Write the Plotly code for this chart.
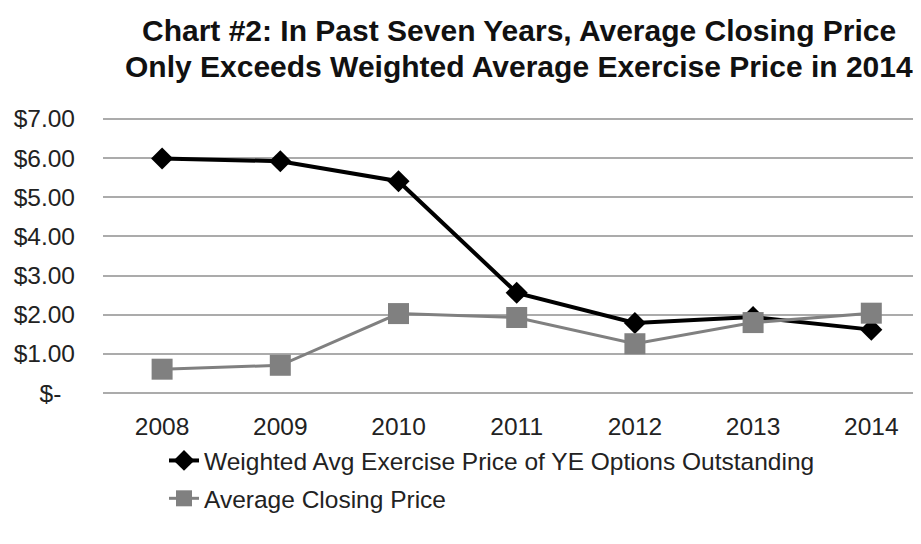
import plotly.graph_objects as go

years = ["2008", "2009", "2010", "2011", "2012", "2013", "2014"]
weighted_avg = [5.99, 5.92, 5.41, 2.56, 1.79, 1.94, 1.62]
avg_closing = [0.61, 0.71, 2.03, 1.93, 1.26, 1.80, 2.04]
ytick_vals = [0, 1, 2, 3, 4, 5, 6, 7]
ytick_text = ["$-\u00a0\u00a0", "$1.00", "$2.00", "$3.00", "$4.00", "$5.00", "$6.00", "$7.00"]
title_lines = ["Chart #2: In Past Seven Years, Average Closing Price",
               "Only Exceeds Weighted Average Exercise Price in 2014"]

FONT = "Liberation Sans, Arial, Helvetica, sans-serif"
FS = 24.5

# page body has an 8px margin, so figure coords = window coords - 8
OFF = 8
PX_PER_UNIT = 39.14
PAD = 0.1  # y-range padding so the $- and $7.00 gridlines are drawn
PLOT_L, PLOT_R = 103 - OFF, 921 - OFF
PLOT_T = round(119 - OFF - PAD * PX_PER_UNIT)
PLOT_B = round(393 - OFF + PAD * PX_PER_UNIT)
FIG_W, FIG_H = 921, 544
PH = PLOT_B - PLOT_T

fig = go.Figure()
fig.add_trace(go.Scatter(
    x=years, y=weighted_avg, mode="lines+markers",
    name="Weighted Avg Exercise Price of YE Options Outstanding",
    line=dict(color="#000000", width=4),
    marker=dict(symbol="diamond", size=17, color="#000000"),
    legendgroup="a",
))
fig.add_trace(go.Scatter(
    x=years, y=avg_closing, mode="lines+markers",
    name="Average Closing Price",
    line=dict(color="#808080", width=3),
    marker=dict(symbol="square", size=21, color="#808080"),
    legendgroup="b",
))

for line, ywin in zip(title_lines, [30, 66]):
    fig.add_annotation(
        text=line, xref="paper", yref="paper",
        x=(519 - 103) / (PLOT_R - PLOT_L), y=1 + (PLOT_T - (ywin - OFF)) / PH,
        xanchor="center", yanchor="middle", showarrow=False,
        font=dict(family=FONT, size=30, color="#111111", weight="bold"),
    )

fig.update_layout(
    width=FIG_W, height=FIG_H,
    margin=dict(l=PLOT_L, r=FIG_W - PLOT_R, t=PLOT_T, b=FIG_H - PLOT_B, autoexpand=False),
    paper_bgcolor="white", plot_bgcolor="white",
    font=dict(family=FONT, size=FS, color="#222222"),
    showlegend=True,
    legend=dict(
        xref="container", yref="container",
        x=0.1694, y=0.2095, xanchor="left", yanchor="top",
        font=dict(family=FONT, size=FS, color="#222222"),
        tracegroupgap=3,
        bgcolor="rgba(0,0,0,0)",
    ),
)
fig.update_xaxes(
    type="category", range=[-0.5, -0.5 + (PLOT_R - PLOT_L) / 118.2],
    showgrid=False, showline=False, zeroline=False,
    ticks="", ticklabelstandoff=12, tickangle=0,
    tickfont=dict(family=FONT, size=FS, color="#222222"),
)
fig.update_yaxes(
    range=[-PAD, 7 + PAD], tickvals=ytick_vals, ticktext=ytick_text,
    showgrid=True, gridcolor="#ababab", gridwidth=2,
    showline=False, zeroline=False,
    ticks="", ticklabelstandoff=27,
    tickfont=dict(family=FONT, size=FS, color="#222222"),
)

fig.write_html("out.html")
